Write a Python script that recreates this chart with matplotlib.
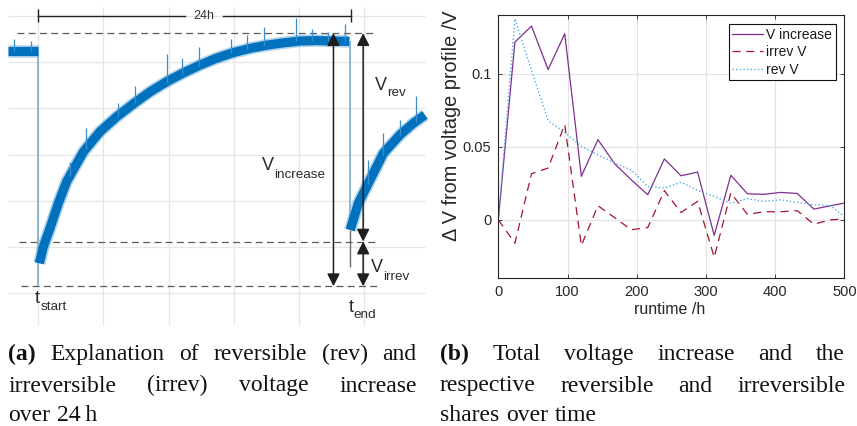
import matplotlib
matplotlib.use("Agg")
import matplotlib.pyplot as plt
import numpy as np

W, H = 857, 426

# ---------------- (b) data: voltage increase shares over runtime ----------------
runtime_h = [0, 24, 48, 72, 96, 120, 144, 168, 192, 216, 240, 264, 288, 312, 336,
             360, 384, 408, 432, 456, 480, 500]
v_increase = [0, 0.1215, 0.1324, 0.1027, 0.1272, 0.0297, 0.0548, 0.0384, 0.0274, 0.0171,
              0.0416, 0.0301, 0.0326, -0.0107, 0.0304, 0.0178, 0.0174, 0.0187, 0.0180,
              0.0073, 0.0096, 0.0114]
irrev_v = [0, -0.0160, 0.0315, 0.0354, 0.0651, -0.0176, 0.0096, 0.0015, -0.0068, -0.0053,
           0.0199, 0.0050, 0.0126, -0.0256, 0.0183, 0.0037, 0.0055, 0.0055, 0.0062,
           -0.0030, 0.0000, 0.0005]
rev_v = [0, 0.1374, 0.1020, 0.0678, 0.0598, 0.0502, 0.0445, 0.0388, 0.0342, 0.0228,
         0.0217, 0.0256, 0.0201, 0.0160, 0.0114, 0.0144, 0.0126, 0.0137, 0.0119,
         0.0103, 0.0096, 0.0023]
series_labels = ["V increase", "irrev V", "rev V"]
x_ticks = [0, 100, 200, 300, 400, 500]
y_ticks = [0, 0.05, 0.1]
y_tick_labels = ["0", "0.05", "0.1"]
x_label = "runtime /h"
y_label = "\u0394 V from voltage profile /V"

# ---------------- (a) illustration data (hours after t_start, voltage in grid units) ----------------
pre_t = [-2.30, 0.0]
pre_v = [5.245, 5.245]
curve1_t = [0.08, 0.39, 0.90, 1.54, 2.18, 3.46, 4.74, 6.02, 7.30, 8.58, 9.86, 11.14,
            12.42, 13.70, 14.98, 16.26, 17.54, 18.82, 20.10, 21.38, 22.66, 23.89]
curve1_v = [0.65, 1.01, 1.41, 1.95, 2.42, 3.06, 3.50, 3.82, 4.10, 4.36, 4.58, 4.77,
            4.94, 5.09, 5.21, 5.30, 5.37, 5.42, 5.46, 5.47, 5.46, 5.45]
curve2_t = [23.95, 24.58, 25.22, 26.50, 27.78, 28.80, 29.70]
curve2_v = [1.37, 1.95, 2.31, 3.03, 3.43, 3.68, 3.86]
spike_pre_t = [-1.87, -0.56]
spike_pre_top = [5.50, 5.45]
spike1_t = [2.43, 3.66, 6.14, 7.43, 9.86, 11.01, 12.34, 14.80, 16.05, 17.36, 19.79,
            21.00, 22.27, 23.55]
spike1_top = [2.85, 3.57, 4.11, 4.49, 5.19, 5.09, 5.34, 5.50, 5.59, 5.77, 5.95,
              5.71, 5.66, 5.83]
spike2_t = [25.30, 26.45, 27.78, 28.98]
spike2_top = [2.88, 3.46, 3.75, 4.26]
level_top, level_mid, level_bot = 5.63, 1.12, 0.154
t_start, t_end, t_drop = 0.0, 24.0, 23.92
end_marker_bottom = 0.576
grid_t = [0, 5, 10, 15, 20, 25]
grid_v = [0, 1, 2, 3, 4, 5, 6]

plt.rcParams['font.family'] = ['Liberation Sans', 'DejaVu Sans']

fig = plt.figure(figsize=(W / 100, H / 100), dpi=100)
fig.patch.set_facecolor('white')


def fp(px, py):
    return (px / W, 1 - py / H)


# ================= left panel =================
axL = fig.add_axes([0, 0, 430 / W, 1])
axL.set_xlim(-2.942, 30.084)
axL.set_ylim(-2.872, 6.348)
axL.axis('off')

axL.vlines(grid_t, -0.69, 6.20, color='#e6e6e6', lw=0.9, zorder=0)
axL.hlines(grid_v, -2.30, 29.70, color='#e6e6e6', lw=0.9, zorder=0)

blue = '#0072BD'
light_blue = '#7fb2dc'
for tt, vv in [(pre_t, pre_v), (curve1_t, curve1_v), (curve2_t, curve2_v)]:
    axL.plot(tt, vv, color=blue, lw=9.0, alpha=0.3, solid_capstyle='butt', zorder=2)
    axL.plot(tt, vv, color=blue, lw=6.6, solid_capstyle='butt', zorder=3)

# spikes
for st, top in zip(spike_pre_t, spike_pre_top):
    axL.vlines(st, pre_v[0], top, color='#3a8ed0', lw=0.9, zorder=3)
for st, top in zip(spike1_t, spike1_top):
    axL.vlines(st, np.interp(st, curve1_t, curve1_v), top, color='#3a8ed0', lw=0.9, zorder=3)
for st, top in zip(spike2_t, spike2_top):
    axL.vlines(st, np.interp(st, curve2_t, curve2_v), top, color='#3a8ed0', lw=0.9, zorder=3)

# drops
axL.vlines(t_start, level_bot, pre_v[-1], color=light_blue, lw=1.3, zorder=2)
axL.vlines(t_drop, curve2_v[0], curve1_v[-1], color=light_blue, lw=1.3, zorder=2)
axL.vlines(t_drop, end_marker_bottom, curve2_v[0], color='#6a6a6a', lw=1.0, zorder=2)

# dashed level lines
dash_kw = dict(color='#5a5a5a', lw=0.9, dashes=(5.5, 3.5), zorder=1)
axL.plot([-1.61, 26.0], [level_top, level_top], **dash_kw)
axL.plot([-1.48, 26.0], [level_mid, level_mid], **dash_kw)
axL.plot([-1.35, 26.09], [level_bot, level_bot], **dash_kw)

# 24h bracket
br_v = 6.009
axL.plot([t_start, 11.28], [br_v, br_v], color='#222222', lw=1.0)
axL.plot([14.2, t_end], [br_v, br_v], color='#222222', lw=1.0)
axL.vlines([t_start, t_end], 5.879, 6.154, color='#222222', lw=1.0)
axL.text(12.74, br_v, '24h', ha='center', va='center', fontsize=9, color='#333333')

# arrows
arrow_kw = dict(arrowstyle='<|-|>,head_length=0.75,head_width=0.38', mutation_scale=10,
                color='#1e1e1e', lw=1.1, shrinkA=0, shrinkB=0)
x_inc, x_rev = 22.67, 24.95
axL.annotate('', xy=(x_inc, level_top), xytext=(x_inc, level_bot), arrowprops=arrow_kw, zorder=5)
axL.annotate('', xy=(x_rev, level_top), xytext=(x_rev, level_mid), arrowprops=arrow_kw, zorder=5)
axL.annotate('', xy=(x_rev, level_mid), xytext=(x_rev, level_bot), arrowprops=arrow_kw, zorder=5)

# labels (main letter + subscript)
lab_col = '#2a2a2a'
def lab(main, sub, px, py, spx, spy, msize=13, ssize=9.7):
    fig.text(*fp(px, py), main, fontsize=msize, color=lab_col, ha='left', va='baseline')
    fig.text(*fp(spx, spy), sub, fontsize=ssize, color=lab_col, ha='left', va='baseline')

lab('V', 'increase', 262, 170, 274.5, 178)
lab('V', 'rev', 375, 90, 387, 96.5)
lab('V', 'irrev', 371, 272, 383.5, 279.5)
lab('t', 'start', 34.5, 303, 40.5, 310)
lab('t', 'end', 348.5, 312, 353.5, 318.5)

# ================= right panel =================
axR = fig.add_axes([498.3 / W, (H - 278.3) / H, 346 / W, 263.3 / H])
axR.plot(runtime_h, v_increase, color='#7E2F8E', lw=0.9, label=series_labels[0])
axR.plot(runtime_h, irrev_v, color='#A2142F', lw=0.9, ls=(0, (6.5, 4.5)), label=series_labels[1])
axR.plot(runtime_h, rev_v, color='#4DAFE6', lw=1.0, ls=(0, (1, 1.6)), label=series_labels[2])
axR.set_xlim(0, 500)
axR.set_ylim(-0.04, 0.14)
axR.set_xticks(x_ticks)
axR.set_yticks(y_ticks)
axR.set_yticklabels(y_tick_labels)
axR.grid(True, color='#e3e3e3', lw=0.9)
axR.set_axisbelow(True)
axR.tick_params(direction='in', length=3, width=0.6, top=True, right=True,
                labelsize=10.5, colors='#262626', pad=5)
for s in axR.spines.values():
    s.set_color('#262626')
    s.set_linewidth(0.8)
axR.set_xlabel(x_label, fontsize=11.5, color='#262626')
axR.xaxis.set_label_coords(0.496, -0.118)
axR.xaxis.label.set_va('center')
axR.set_ylabel(y_label, fontsize=14.3, color='#262626')
axR.yaxis.set_label_coords(-0.134, 0.578)
axR.yaxis.label.set_va('center')
leg = axR.legend(loc='upper right', bbox_to_anchor=(0.975, 0.9647), borderaxespad=0,
                 fancybox=False, framealpha=1, edgecolor='#111111', fontsize=10,
                 handlelength=2.2, handletextpad=0.25, borderpad=0.25, labelspacing=0.25)
leg.get_frame().set_linewidth(0.8)
for t in leg.get_texts():
    t.set_color('#1a1a1a')

# ================= captions (justified) =================
serif = ['Liberation Serif', 'DejaVu Serif']
cap_size = 17.0
fig.canvas.draw()
renderer = fig.canvas.get_renderer()


def measure(s, bold=False):
    t = fig.text(0, 0, s, fontsize=cap_size, family=serif,
                 fontweight='bold' if bold else 'normal')
    w = t.get_window_extent(renderer).width
    t.remove()
    return w


space_w = measure('x x') - measure('xx')


def caption_line(words, x0, x1, py, justify):
    widths = [measure(w, b) for w, b in words]
    if justify and len(words) > 1:
        gap = (x1 - x0 - sum(widths)) / (len(words) - 1)
    else:
        gap = space_w * 1.15
    x = x0
    for (w, b), wd in zip(words, widths):
        fig.text(*fp(x, py), w, fontsize=cap_size, family=serif, color='#111111',
                 fontweight='bold' if b else 'normal', ha='left', va='baseline')
        x += wd + gap


capA = [
    ([('(a)', True), ('Explanation', False), ('of', False), ('reversible', False), ('(rev)', False), ('and', False)], True),
    ([('irreversible', False), ('(irrev)', False), ('voltage', False), ('increase', False)], True),
    ([('over', False), ('24\u2009h', False)], False),
]
capB = [
    ([('(b)', True), ('Total', False), ('voltage', False), ('increase', False), ('and', False), ('the', False)], True),
    ([('respective', False), ('reversible', False), ('and', False), ('irreversible', False)], True),
    ([('shares', False), ('over', False), ('time', False)], False),
]
baselines = [360, 391.5, 421]
for (words, just), py in zip(capA, baselines):
    caption_line(words, 8.3, 416.5, py, just)
for (words, just), py in zip(capB, baselines):
    caption_line(words, 440, 845, py, just)

fig.savefig('out.png', dpi=100, facecolor='white')
